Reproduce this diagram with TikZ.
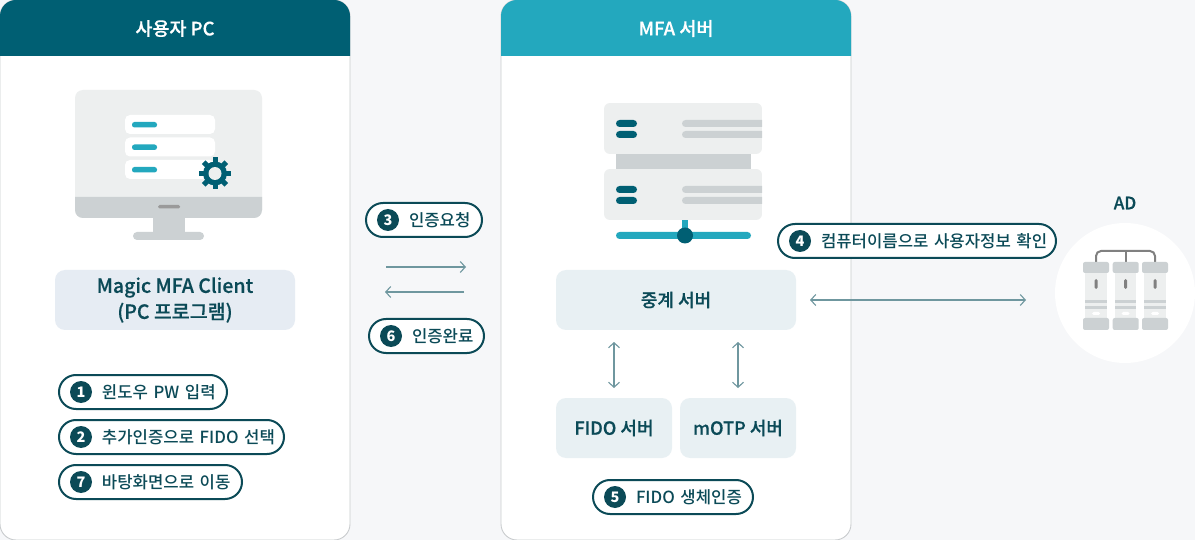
\documentclass[tikz,border=0pt]{standalone}
\usepackage{fontspec}
\setmainfont{Noto Sans CJK KR}
\newfontfamily\medfont{Noto Sans CJK KR Medium}
\newfontfamily\headfont{Noto Sans CJK KR Medium}[FakeBold=0.4]
\usetikzlibrary{arrows.meta}
\definecolor{pagebg}{HTML}{F6F7F9}
\definecolor{deepteal}{HTML}{005F73}
\definecolor{lightteal}{HTML}{23A8BE}
\definecolor{inkteal}{HTML}{0B4A57}
\definecolor{flowline}{HTML}{6F979F}
\definecolor{panelline}{HTML}{C9CCCE}
\definecolor{iconlight}{HTML}{EDEFEF}
\definecolor{icongrey}{HTML}{CCD1D3}
\definecolor{icondark}{HTML}{808080}
\definecolor{boxblue}{HTML}{E6ECF3}
\definecolor{boxteal}{HTML}{E8F0F3}
\tikzset{
    panel/.style={draw=panelline, line width=0.9pt, fill=white, rounded corners=16pt, minimum width=350pt, minimum height=540pt, outer sep=0pt},
    headtext/.style={text=white, font=\fontsize{18.5}{22}\selectfont\headfont},
    softbox/.style={fill=boxteal, rounded corners=10pt, text=inkteal, outer sep=0pt, font=\fontsize{18}{21}\selectfont\headfont},
    tagpill/.style={draw=inkteal, line width=2pt, fill=white, rounded corners=17pt, anchor=west, minimum height=34pt,
        inner xsep=0pt, inner ysep=0pt, outer sep=0pt, text width=#1, align=left, text=inkteal,
        font=\fontsize{16.7}{20}\selectfont\medfont, execute at begin node={\hspace*{43pt}}},
    badge/.style={circle, fill=inkteal, text=white, minimum size=22pt, inner sep=0pt, font=\fontsize{14.5}{16}\selectfont\bfseries},
    flow/.style={draw=flowline, line width=1.1pt, -{Straight Barb[length=5pt,width=11pt]}},
    twoway/.style={draw=flowline, line width=1.1pt, {Straight Barb[length=5pt,width=11pt]}-{Straight Barb[length=5pt,width=11pt]}}
}
\begin{document}
\begin{tikzpicture}[x=1pt, y=-1pt]
    \useasboundingbox (0,0) rectangle (1195,540);
    \fill[pagebg] (0,0) rectangle (1195,540);

    % Two panels with their header bands
    \node[panel] (user) at (175,270) {};
    \node[panel] (mfa) at (676,270) {};
    \fill[deepteal] (0,56) [rounded corners=16pt] -- (0,0) -- (350,0) [sharp corners] -- (350,56) -- cycle;
    \fill[lightteal] (501,56) [rounded corners=16pt] -- (501,0) -- (851,0) [sharp corners] -- (851,56) -- cycle;
    \node[headtext] (usertitle) at (175,28.5) {사용자 PC};
    \node[headtext] (mfatitle) at (676,28.5) {MFA 서버};

    % Monitor icon
    \fill[iconlight, rounded corners=8pt] (75,90) rectangle (262,218);
    \fill[icongrey] (75,197) [rounded corners=8pt] -- (75,218) -- (262,218) [sharp corners] -- (262,197) -- cycle;
    \fill[icondark!80!white, rounded corners=1.5pt] (158,205) rectangle (180,208.5);
    \fill[icongrey] (153,218) rectangle (185,233);
    \fill[icongrey, rounded corners=4pt] (133,232) rectangle (204,240);
    \foreach \y in {115,137.5,160} {
        \fill[white, rounded corners=5pt] (125,\y) rectangle (215,\y+19);
        \fill[lightteal, rounded corners=2.5pt] (132,\y+7) rectangle (157,\y+12.5);
    }
    % Gear on the monitor
    \foreach \a in {0,45,...,315} {
        \draw[deepteal, line width=5pt] (215,173.5) ++(\a:9) -- ++(\a:7);
    }
    \fill[deepteal] (215,173.5) circle (12pt);
    \fill[iconlight] (215,173.5) circle (6.5pt);

    % Server icon
    \fill[icongrey] (616,150) rectangle (751,172);
    \foreach \y in {103,169} {
        \begin{scope}
            \clip[rounded corners=6pt] (604,\y) rectangle (762,\y+51);
            \fill[iconlight] (604,\y) rectangle (762,\y+51);
            \fill[icongrey, rounded corners=3.5pt] (682,\y+17) rectangle (775,\y+24);
            \fill[icongrey, rounded corners=3.5pt] (682,\y+28) rectangle (775,\y+35);
        \end{scope}
        \fill[deepteal, rounded corners=3.5pt] (616,\y+17) rectangle (637,\y+24);
        \fill[deepteal, rounded corners=3.5pt] (616,\y+28) rectangle (637,\y+35);
    }
    \fill[lightteal] (682,220) rectangle (688,235);
    \fill[lightteal, rounded corners=3.5pt] (616,232) rectangle (751,239);
    \fill[deepteal] (685,235.5) circle (8pt);

    % Boxes
    \node[softbox, fill=boxblue, minimum width=240pt, minimum height=60pt, align=center, font=\fontsize{19.5}{26}\selectfont\headfont] (client) at (175,300) {Magic MFA Client\\(PC 프로그램)};
    \node[softbox, minimum width=240pt, minimum height=60pt] (relay) at (676,300) {중계 서버};
    \node[softbox, minimum width=116pt, minimum height=60pt] (fido) at (614,428) {FIDO 서버};
    \node[softbox, minimum width=116pt, minimum height=60pt] (motp) at (738,428) {mOTP 서버};

    % AD circle and its icon
    \node[circle, fill=white, minimum size=140pt, inner sep=0pt, outer sep=0pt] (ad) at (1125,293) {};
    \node[text=inkteal, font=\fontsize{17}{20}\selectfont\headfont] (adtitle) at (1125,203) {AD};
    \draw[icondark, line width=2pt, rounded corners=5pt] (1096,263) -- (1096,251) -- (1155,251) -- (1155,263);
    \draw[icondark, line width=2pt] (1125.5,251) -- (1125.5,263);
    \foreach \x in {1083,1112.7,1142} {
        \fill[iconlight] (\x+2,270) rectangle (\x+23.5,320);
        \fill[icongrey, rounded corners=2pt] (\x,262) rectangle (\x+26,273);
        \fill[icongrey, rounded corners=2pt] (\x,318) rectangle (\x+26,330);
        \fill[icondark, rounded corners=1.5pt] (\x+11.5,279) rectangle (\x+14.5,289);
        \fill[icongrey] (\x+2,300) rectangle (\x+23.5,303.5);
        \fill[icongrey] (\x+2,306) rectangle (\x+23.5,309.5);
        \fill[white, rounded corners=1.5pt] (\x+9,312) rectangle (\x+17,315);
    }

    % Numbered tags
    \node[tagpill=168pt] (tag1) at (59,392) {윈도우 PW 입력};
    \node[tagpill=225pt] (tag2) at (59,437) {추가인증으로 FIDO 선택};
    \node[tagpill=183pt] (tag7) at (59,482) {바탕화면으로 이동};
    \node[tagpill=116pt] (tag3) at (366,220) {인증요청};
    \node[tagpill=115pt] (tag6) at (369,336) {인증완료};
    \node[tagpill=278pt] (tag4) at (778,241) {컴퓨터이름으로 사용자정보 확인};
    \node[tagpill=160pt] (tag5) at (593,497) {FIDO 생체인증};
    \foreach \n in {1,2,3,4,5,6,7} {
        \node[badge] (badge\n) at ([xshift=22pt]tag\n.west) {\n};
    }

    % Arrows
    \coordinate (reqstart) at (386,267);
    \coordinate (reqend) at (466,267);
    \coordinate (donestart) at (464,292);
    \coordinate (doneend) at (385,292);
    \coordinate (adport) at (1026,300);
    \draw[flow] (reqstart) -- (reqend);
    \draw[flow] (donestart) -- (doneend);
    \draw[twoway, shorten <=14pt] (relay.east) -- (adport);
    \draw[twoway, shorten <=12pt, shorten >=10pt] (relay.south -| fido.north) -- (fido.north);
    \draw[twoway, shorten <=12pt, shorten >=10pt] (relay.south -| motp.north) -- (motp.north);
\end{tikzpicture}
\end{document}
